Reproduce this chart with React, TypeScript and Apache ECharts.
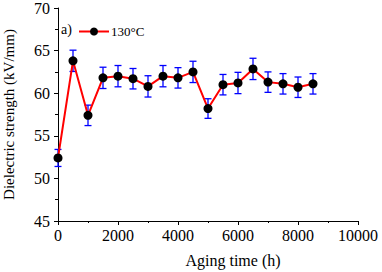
import React, { useEffect, useRef } from "react";
import * as echarts from "echarts";

const agingTime = [0, 500, 1000, 1500, 2000, 2500, 3000, 3500, 4000, 4500, 5000, 5500, 6000, 6500, 7000, 7500, 8000, 8500];
const strength = [52.4, 63.8, 57.4, 61.8, 62.0, 61.7, 60.8, 62.0, 61.8, 62.5, 58.2, 61.0, 61.2, 62.85, 61.3, 61.1, 60.7, 61.1];
const errors = [1.0, 1.25, 1.2, 1.25, 1.25, 1.2, 1.25, 1.25, 1.2, 1.25, 1.15, 1.2, 1.25, 1.25, 1.2, 1.2, 1.2, 1.2];
const seriesName = "130°C";
const panelLabel = "a)";

const FONT = "Liberation Serif";

export default function App() {
  const ref = useRef<HTMLDivElement>(null);
  useEffect(() => {
    document.body.style.margin = "0";
    if (!ref.current) return;
    const chart = echarts.init(ref.current, null, { renderer: "svg" });
    const lineData = agingTime.map((t, i) => [t, strength[i]]);
    const errData = agingTime.map((t, i) => [t, strength[i] - errors[i], strength[i] + errors[i]]);
    chart.setOption({
      animation: false,
      backgroundColor: "#ffffff",
      grid: { left: 58, right: 24, top: 8, bottom: 51, containLabel: false, outerBoundsMode: "none" },
      legend: {
        left: 73,
        top: 20,
        itemWidth: 30,
        itemHeight: 10,
        itemGap: 2,
        data: [seriesName],
        textStyle: { fontFamily: FONT, fontSize: 13, color: "#000", padding: [0, 0, 0, -3] },
      },
      graphic: [
        {
          type: "text",
          left: 61,
          top: 22,
          style: { text: panelLabel, font: `14px ${FONT}`, fill: "#000" },
        },
      ],
      xAxis: {
        type: "value",
        min: 0,
        max: 10000,
        interval: 2000,
        name: "Aging time (h)",
        nameLocation: "middle",
        nameGap: 31,
        nameTextStyle: { fontFamily: FONT, fontSize: 16, color: "#000", padding: [0, 0, 0, 50] },
        axisLine: { show: true, onZero: false, lineStyle: { color: "#000", width: 1 } },
        axisTick: { show: true, inside: false, length: 4, lineStyle: { color: "#000" } },
        minorTick: { show: true, splitNumber: 2, length: 2, lineStyle: { color: "#000" } },
        axisLabel: { fontFamily: FONT, fontSize: 16, color: "#000", margin: 6, formatter: (v: number) => String(v) },
        splitLine: { show: false },
      },
      yAxis: {
        type: "value",
        min: 45,
        max: 70,
        interval: 5,
        name: "Dielectric strength (kV/mm)",
        nameLocation: "middle",
        nameGap: 42,
        nameTextStyle: { fontFamily: FONT, fontSize: 15, color: "#000" },
        axisLine: { show: true, lineStyle: { color: "#000", width: 1 } },
        axisTick: { show: true, inside: false, length: 4, lineStyle: { color: "#000" } },
        minorTick: { show: true, splitNumber: 2, length: 3, lineStyle: { color: "#000" } },
        axisLabel: { fontFamily: FONT, fontSize: 16, color: "#000", margin: 8 },
        splitLine: { show: false },
      },
      series: [
        {
          type: "custom",
          name: "err",
          z: 2,
          renderItem: (params: any, api: any) => {
            const x = api.value(0);
            const lo = api.coord([x, api.value(1)]);
            const hi = api.coord([x, api.value(2)]);
            const hw = 3.5;
            const style = { stroke: "#0000ff", lineWidth: 1.3 };
            return {
              type: "group",
              children: [
                { type: "line", shape: { x1: lo[0], y1: lo[1], x2: hi[0], y2: hi[1] }, style },
                { type: "line", shape: { x1: lo[0] - hw, y1: lo[1], x2: lo[0] + hw, y2: lo[1] }, style },
                { type: "line", shape: { x1: hi[0] - hw, y1: hi[1], x2: hi[0] + hw, y2: hi[1] }, style },
              ],
            };
          },
          data: errData,
          encode: { x: 0, y: [1, 2] },
          silent: true,
        },
        {
          type: "line",
          name: seriesName,
          z: 3,
          data: lineData,
          symbol: "circle",
          symbolSize: 9,
          lineStyle: { color: "#ff0000", width: 2 },
          itemStyle: { color: "#000000" },
        },
      ],
    });
    return () => chart.dispose();
  }, []);
  return <div ref={ref} style={{ width: 382, height: 272 }} />;
}
